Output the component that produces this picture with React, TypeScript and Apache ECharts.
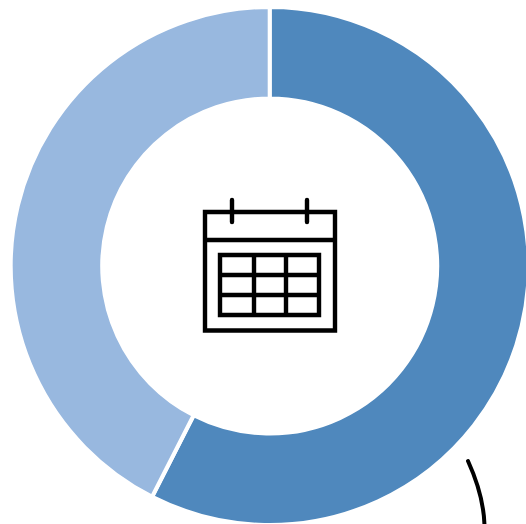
import React, { useEffect, useRef } from "react";
import * as echarts from "echarts";

const categories = ["A", "B"];
const values = [57.5, 42.5];
const colors = ["#4F88BD", "#98B8DF"];

const lineStyle = { stroke: "#000", lineWidth: 4.4, fill: "none" };
const ln = (x1: number, y1: number, x2: number, y2: number, cap = "butt") => ({
  type: "line",
  shape: { x1, y1, x2, y2 },
  style: { ...lineStyle, lineCap: cap },
});

export default function App() {
  const ref = useRef<HTMLDivElement>(null);
  useEffect(() => {
    document.body.style.margin = "0";
    const chart = echarts.init(ref.current!, null, { renderer: "svg" });
    chart.setOption({
      animation: false,
      backgroundColor: "#fff",
      series: [
        {
          type: "pie",
          center: [269.7, 266],
          radius: [167.5, 259],
          startAngle: 90,
          clockwise: true,
          label: { show: false },
          labelLine: { show: false },
          silent: true,
          itemStyle: { borderColor: "#fff", borderWidth: 4 },
          data: categories.map((name, i) => ({
            name,
            value: values[i],
            itemStyle: { color: colors[i] },
          })),
        },
      ],
      graphic: [
        {
          type: "rect",
          shape: { x: 205, y: 212, width: 130, height: 118.5 },
          style: lineStyle,
        },
        ln(205, 240, 335, 240),
        ln(232, 200, 232, 222, "round"),
        ln(307, 200, 307, 222, "round"),
        {
          type: "rect",
          shape: { x: 220, y: 255, width: 99, height: 60 },
          style: lineStyle,
        },
        ln(254, 255, 254, 315),
        ln(286, 255, 286, 315),
        ln(220, 275, 319, 275),
        ln(220, 295, 319, 295),
        {
          type: "bezierCurve",
          shape: { x1: 468, y1: 461, cpx1: 478, cpy1: 483, cpx2: 484, cpy2: 503, x2: 484.5, y2: 526 },
          style: { ...lineStyle, lineWidth: 4, lineCap: "round" },
        },
      ],
    });
    return () => chart.dispose();
  }, []);
  return <div ref={ref} style={{ width: 526, height: 524 }} />;
}
